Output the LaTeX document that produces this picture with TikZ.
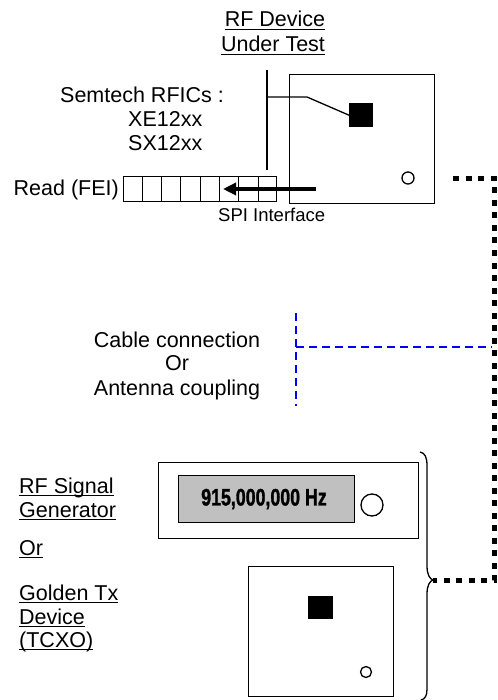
\documentclass[tikz,border=0pt]{standalone}
\usepackage{fontspec}
\usepackage{graphicx}
\setmainfont{Liberation Sans}
\newfontfamily\freqfont[UprightFont={* Bold}, UprightFeatures={FakeBold=1.6}]{Liberation Sans}
\usetikzlibrary{arrows.meta,calc}
\newsavebox\ulbx
\newcommand\ulin[1]{\sbox\ulbx{#1}\rlap{\rule[-2.8pt]{\wd\ulbx}{1.1pt}}\usebox\ulbx}
\definecolor{dispgray}{RGB}{192,192,192}
\begin{document}
\begin{tikzpicture}[x=1pt,y=-1pt,
  txt/.style={font=\fontsize{21.5}{25}\selectfont, inner sep=0pt},
  smalltxt/.style={font=\fontsize{18.5}{22}\selectfont, inner sep=0pt},
  box/.style={draw, line width=1.4pt, inner sep=0pt},
  chip/.style={fill=black, inner sep=0pt},
  knob/.style={draw, line width=1.3pt, circle, inner sep=0pt},
  thinline/.style={line width=1.3pt},
  thickdot/.style={line width=5pt, dash pattern=on 6pt off 6.5pt},
  bluedash/.style={draw=blue, line width=2.3pt, dash pattern=on 8pt off 5pt}]
\useasboundingbox (0,0) rectangle (497,700);

% ---------- RF device under test ----------
\node[txt, anchor=base] (t1) at (275,27) {\ulin{RF Device}};
\node[txt, anchor=base] (t2) at (273,52) {\ulin{Under Test}};

\node[box, minimum width=145pt, minimum height=129pt, anchor=north west] (dut) at (289,74) {};
\node[chip, minimum size=24pt, anchor=north west] (dutchip) at (349,103) {};
\node[knob, minimum size=12pt] (dutknob) at (408,178) {};

\node[txt, anchor=base west] (sem) at (60,103) {Semtech RFICs :};
\node[txt, anchor=base west] (xe) at (128,127) {XE12xx};
\node[txt, anchor=base west] (sx) at (128,151) {SX12xx};

\coordinate (ldTop) at (267,70);
\coordinate (ldBot) at (267,170);
\coordinate (ldJ) at (267,97);
\coordinate (ldK) at (307,97);
\draw[thinline] (ldTop) -- (ldBot);
\draw[thinline] (ldJ) -- (ldK) -- (dutchip.west);

\node[box, minimum width=153pt, minimum height=25pt, anchor=north west] (reg) at (123,176) {};
\foreach \i in {1,...,7}
  \draw[line width=1.1pt] ($(reg.north west)!\i/8!(reg.north east)$) -- ($(reg.south west)!\i/8!(reg.south east)$);
\node[txt, anchor=base east] (read) at (119,196) {Read (FEI)};
\node[smalltxt, anchor=base west] (spi) at (218,222) {SPI Interface};

\coordinate (arrS) at (316,189);
\coordinate (arrE) at (223,189);
\draw[line width=3.5pt, -{Triangle[length=13pt,width=12pt]}] (arrS) -- (arrE);

% ---------- connection ----------
\node[txt, anchor=base] (cab) at (177,347) {Cable connection};
\node[txt, anchor=base] (orm) at (177,370) {Or};
\node[txt, anchor=base] (ant) at (177,395) {Antenna coupling};

\coordinate (bT) at (296,313);
\coordinate (bB) at (296,406);
\coordinate (bJ) at (296,347);
\coordinate (bR) at (492,347);
\draw[bluedash] (bT) -- (bB);
\draw[bluedash] (bJ) -- (bR);

\coordinate (dS) at (453,179);
\coordinate (dC1) at (494.5,179);
\coordinate (dC2) at (494.5,580);
\coordinate (brTip) at (433,580);
\draw[thickdot] (dS) -- (dC1) -- (dC2) -- (brTip);

% ---------- sources ----------
\node[box, minimum width=260pt, minimum height=76pt, anchor=north west] (gen) at (158,462) {};
\node[box, fill=dispgray, minimum width=176pt, minimum height=47pt, anchor=north west] (disp) at (178,475) {};
\node[inner sep=0pt, font=\fontsize{23.7}{26}\freqfont] (freq) at (264,499) {\scalebox{0.75}[1]{915,000,000 Hz}};
\node[knob, minimum size=22pt] (genknob) at (372,505) {};

\node[box, minimum width=145pt, minimum height=130pt, anchor=north west] (gold) at (248,566) {};
\node[chip, minimum width=25pt, minimum height=23pt, anchor=north west] (goldchip) at (308,596) {};
\node[knob, minimum size=11pt] (goldknob) at (366,672) {};

\draw[thinline] (420,452) .. controls (425,453) and (427,457) .. (427,466)
  -- (427,566) .. controls (427,575) and (430,579) .. (brTip)
  .. controls (430,581) and (427,585) .. (427,594)
  -- (427,689) .. controls (427,696) and (425,699) .. (421,700);

\node[txt, anchor=base west] (l1) at (19,493) {\ulin{RF Signal}};
\node[txt, anchor=base west] (l2) at (19,517) {\ulin{Generator}};
\node[txt, anchor=base west] (l3) at (19,555) {\ulin{Or}};
\node[txt, anchor=base west] (l4) at (19,600) {\ulin{Golden Tx}};
\node[txt, anchor=base west] (l5) at (19,624) {\ulin{Device}};
\node[txt, anchor=base west] (l6) at (19,647) {\ulin{(TCXO)}};
\end{tikzpicture}
\end{document}
